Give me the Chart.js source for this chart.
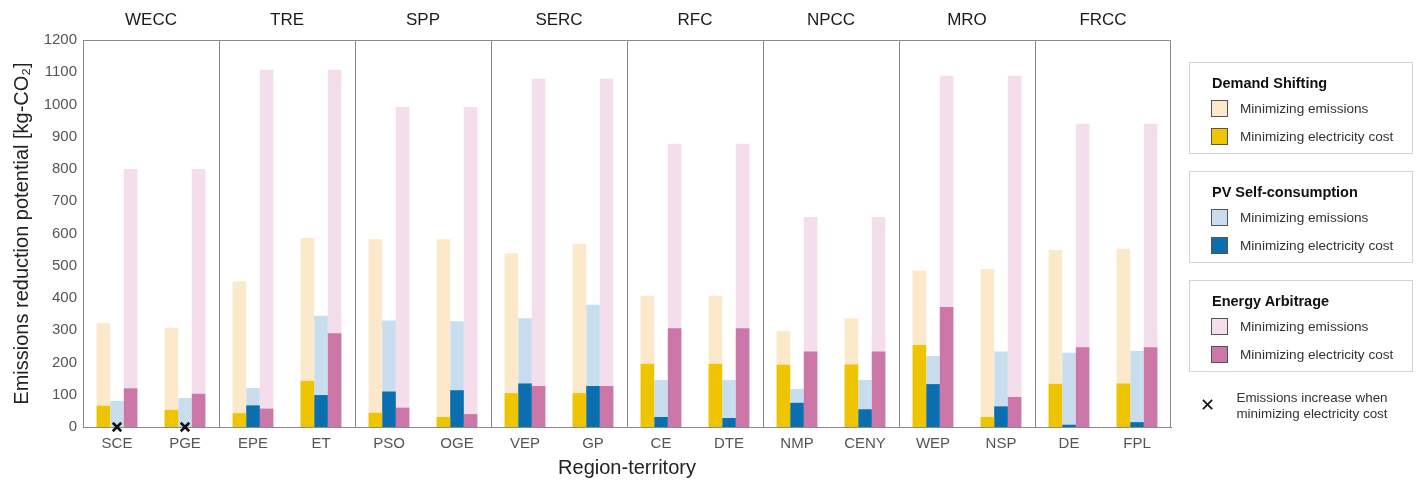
<!DOCTYPE html>
<html>
<head>
<meta charset="utf-8">
<script src="https://cdn.jsdelivr.net/npm/chart.js@4/dist/chart.umd.min.js"></script>
<style>
  html, body { margin: 0; padding: 0; background: #fff; }
  body { width: 1420px; height: 481px; position: relative; overflow: hidden;
         font-family: "Liberation Sans", Arial, sans-serif; }
  #wrap { position: absolute; left: 0; top: 0; width: 1420px; height: 481px; }
  .box { position: absolute; left: 1189px; width: 224px; height: 92px;
         border: 1px solid #d4d4d4; box-sizing: border-box; }
  .ttl { position: absolute; left: 22px; font-weight: bold; font-size: 14.5px; color: #111; line-height: 16px; }
  .row { position: absolute; left: 21px; height: 17px; font-size: 13.6px; color: #333; line-height: 17px; }
  .sw { position: absolute; left: 0; top: 0; width: 15px; height: 15px; border: 1px solid #555; }
  .lab { position: absolute; left: 29px; top: 0; white-space: nowrap; }
  #note { position: absolute; left: 1226px; top: 390px; width: 172px; text-align: center;
          font-size: 13.4px; color: #333; line-height: 16px; }
  #cross { position: absolute; left: 1200px; top: 396px; font-size: 18px; color: #111; line-height: 18px; }
</style>
</head>
<body>
<div id="wrap"><canvas id="c" width="1420" height="481"></canvas></div>
<div id="legend"></div>
<div id="cross">✕</div>
<div id="note">Emissions increase when<br>minimizing electricity cost</div>
<script>
// Utility territories (x categories) and the NERC region each pair belongs to
const territories = ['SCE','PGE','EPE','ET','PSO','OGE','VEP','GP','CE','DTE','NMP','CENY','WEP','NSP','DE','FPL'];
const regions = ['WECC','TRE','SPP','SERC','RFC','NPCC','MRO','FRCC'];

// Emissions reduction potential [kg-CO2]
const demandShiftEmissions = [322, 308, 451, 586, 582, 582, 538, 568, 407, 407, 298, 337, 485, 490, 549, 553];
const demandShiftCost      = [66, 53, 43, 143, 44, 31, 105, 105, 196, 196, 193, 194, 254, 31, 134, 135];
const pvSelfEmissions      = [81, 90, 121, 345, 330, 328, 337, 379, 146, 146, 118, 146, 220, 234, 230, 236];
const pvSelfCost           = [0, 0, 67, 99, 110, 114, 135, 127, 31, 28, 75, 55, 133, 64, 7, 15];
const arbitrageEmissions   = [800, 800, 1108, 1108, 992, 992, 1080, 1080, 878, 878, 651, 651, 1089, 1089, 940, 940];
const arbitrageCost        = [120, 103, 57, 291, 60, 40, 127, 127, 306, 306, 234, 234, 372, 93, 247, 247];
// Territories where PV self-consumption raises emissions under cost minimization
const emissionsIncrease    = [0, 0, null, null, null, null, null, null, null, null, null, null, null, null, null, null];

const yTicks = [0, 100, 200, 300, 400, 500, 600, 700, 800, 900, 1000, 1100, 1200];

const colors = {
  dsLight: '#fce9cb', dsDark: '#efc400',
  pvLight: '#c8ddee', pvDark: '#0b6eae',
  eaLight: '#f5deeb', eaDark: '#cd76a8'
};

const legendGroups = [
  { title: 'Demand Shifting', top: 62, light: colors.dsLight, dark: colors.dsDark },
  { title: 'PV Self-consumption', top: 171, light: colors.pvLight, dark: colors.pvDark },
  { title: 'Energy Arbitrage', top: 280, light: colors.eaLight, dark: colors.eaDark }
];

// Boxed legend on the right
const legendEl = document.getElementById('legend');
legendGroups.forEach(g => {
  const box = document.createElement('div');
  box.className = 'box';
  box.style.top = g.top + 'px';
  box.innerHTML =
    `<div class="ttl" style="top:12px">${g.title}</div>` +
    `<div class="row" style="top:37px"><div class="sw" style="background:${g.light}"></div><div class="lab">Minimizing emissions</div></div>` +
    `<div class="row" style="top:65px"><div class="sw" style="background:${g.dark}"></div><div class="lab">Minimizing electricity cost</div></div>`;
  legendEl.appendChild(box);
});

const FONT = '"Liberation Sans", Arial, sans-serif';

// Region names above each pair of territories, and the closed frame
const regionPlugin = {
  id: 'regionLabels',
  afterDraw(chart) {
    const { ctx, chartArea } = chart;
    const xs = chart.scales.x;
    ctx.save();
    ctx.strokeStyle = '#8a8a8a';
    ctx.lineWidth = 1;
    ctx.beginPath();
    ctx.moveTo(chartArea.left, chartArea.top + 0.5);
    ctx.lineTo(chartArea.right - 0.5, chartArea.top + 0.5);
    ctx.lineTo(chartArea.right - 0.5, chartArea.bottom);
    ctx.stroke();
    ctx.fillStyle = '#1a1a1a';
    ctx.font = '17px ' + FONT;
    ctx.textAlign = 'center';
    ctx.textBaseline = 'middle';
    regions.forEach((r, i) => {
      const x = (xs.getPixelForValue(2 * i) + xs.getPixelForValue(2 * i + 1)) / 2;
      ctx.fillText(r, x, 20);
    });
    ctx.restore();
  }
};

const barCommon = { barPercentage: 1.0, categoryPercentage: 0.6, borderWidth: 0 };

new Chart(document.getElementById('c'), {
  type: 'bar',
  data: {
    labels: territories,
    datasets: [
      { type: 'line', label: 'Emissions increase', data: emissionsIncrease, showLine: false,
        pointStyle: 'crossRot', pointRadius: 6, pointBorderWidth: 2.5, borderColor: '#111',
        backgroundColor: '#111', clip: false, order: -1 },
      { label: 'Demand Shifting – cost', data: demandShiftCost, stack: 'ds', backgroundColor: colors.dsDark, order: 0, ...barCommon },
      { label: 'PV – cost', data: pvSelfCost, stack: 'pv', backgroundColor: colors.pvDark, order: 0, ...barCommon },
      { label: 'Arbitrage – cost', data: arbitrageCost, stack: 'ea', backgroundColor: colors.eaDark, order: 0, ...barCommon },
      { label: 'Demand Shifting – emissions', data: demandShiftEmissions, stack: 'ds', backgroundColor: colors.dsLight, order: 1, ...barCommon },
      { label: 'PV – emissions', data: pvSelfEmissions, stack: 'pv', backgroundColor: colors.pvLight, order: 1, ...barCommon },
      { label: 'Arbitrage – emissions', data: arbitrageEmissions, stack: 'ea', backgroundColor: colors.eaLight, order: 1, ...barCommon }
    ]
  },
  options: {
    responsive: false,
    animation: false,
    layout: { padding: { top: 40, right: 249, left: 0, bottom: 0 } },
    plugins: { legend: { display: false }, tooltip: { enabled: false } },
    scales: {
      x: {
        stacked: true,
        offset: true,
        grid: {
          display: true, offset: true, drawTicks: false,
          color: ctx => (ctx.index > 0 && ctx.index < territories.length && ctx.index % 2 === 0) ? '#8a8a8a' : 'rgba(0,0,0,0)',
          lineWidth: 1
        },
        border: { display: true, color: '#8a8a8a' },
        ticks: { color: '#555', font: { family: FONT, size: 15 }, padding: 8, maxRotation: 0, autoSkip: false },
        title: { display: true, text: 'Region-territory', color: '#222', font: { family: FONT, size: 20 }, padding: { top: 0, bottom: 1 } },
        afterFit: s => { s.height = 54; }
      },
      y: {
        stacked: false,
        min: 0, max: 1200,
        afterBuildTicks: s => { s.ticks = yTicks.map(v => ({ value: v })); },
        grid: { display: false, drawTicks: false },
        border: { display: true, color: '#8a8a8a' },
        ticks: { color: '#555', font: { family: FONT, size: 15 }, padding: 6, callback: v => String(v) },
        title: { display: true, text: 'Emissions reduction potential [kg-CO₂]', color: '#222', font: { family: FONT, size: 20 }, padding: { top: 10, bottom: 0 } },
        afterFit: s => { s.width = 83; }
      }
    }
  },
  plugins: [regionPlugin]
});
</script>
</body>
</html>
